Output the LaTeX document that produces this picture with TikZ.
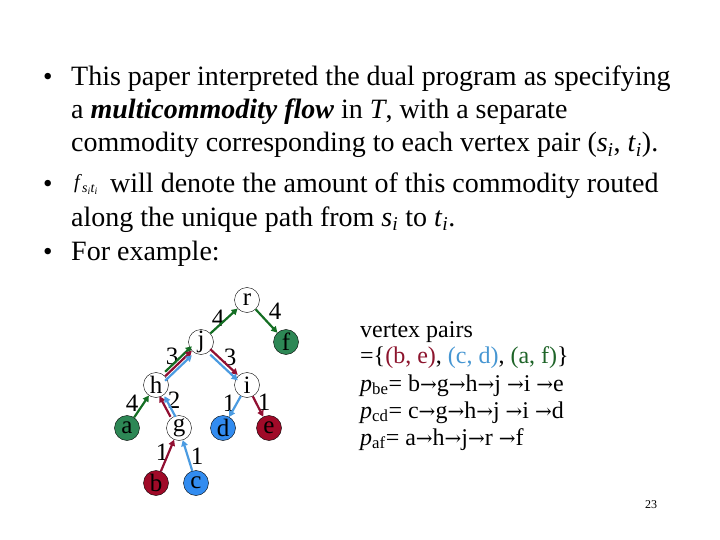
\documentclass[tikz,border=0pt]{standalone}
\usepackage{fontspec}
\setmainfont{Liberation Serif}
\newfontfamily\arrfont{DejaVu Serif}
\newcommand{\ra}{{\arrfont\fontsize{20}{20}\selectfont →}}
\usetikzlibrary{arrows.meta}
\definecolor{flowGreen}{RGB}{20,110,35}
\definecolor{flowRed}{RGB}{145,15,50}
\definecolor{flowBlue}{RGB}{75,155,225}
\definecolor{fillGreen}{RGB}{45,135,85}
\definecolor{fillRed}{RGB}{160,10,40}
\definecolor{fillBlue}{RGB}{50,140,240}
\definecolor{txtRed}{RGB}{140,20,45}
\definecolor{txtBlue}{RGB}{70,150,210}
\definecolor{txtGreen}{RGB}{30,100,40}

\begin{document}
\begin{tikzpicture}[x=1pt,y=-1pt,
  line/.style={anchor=base west,inner sep=0pt,font=\fontsize{28}{33}\selectfont},
  dot/.style={anchor=base west,inner sep=0pt,font=\fontsize{27}{27}\selectfont},
  pair/.style={anchor=base west,inner sep=0pt,font=\fontsize{24}{27}\selectfont},
  vtx/.style={circle,draw,thin,minimum size=25pt,inner sep=0pt,font=\fontsize{25}{25}\selectfont},
  grnv/.style={vtx,fill=fillGreen},
  redv/.style={vtx,fill=fillRed},
  bluv/.style={vtx,fill=fillBlue},
  wt/.style={inner sep=0pt,font=\fontsize{25}{25}\selectfont},
  flow/.style={line width=2.2pt,-{Triangle[length=6pt,width=6.5pt]}},
  grnflow/.style={flow,flowGreen},
  redflow/.style={flow,flowRed},
  bluflow/.style={flow,flowBlue}]
  \useasboundingbox (0,0) rectangle (720,540);
  % bullet text
  \node[dot]  (b1) at (43,86) {•};
  \node[line] (l1) at (71,86) {This paper interpreted the dual program as specifying};
  \node[line] (l2) at (71,119) {a \textbf{\textit{multicommodity flow}} in \textit{T}, with a separate};
  \node[line] (l3) at (71,152) {commodity corresponding to each vertex pair (\textit{s}\textsubscript{\textit{i}}, \textit{t}\textsubscript{\textit{i}}).};
  \node[dot]  (b2) at (43,193) {•};
  \node[anchor=base west,inner sep=0pt,font=\fontsize{20}{20}\selectfont] (fst) at (74,189)
    {\textit{f}\textsubscript{\textit{s\textsubscript{i}t\textsubscript{i}}}};
  \node[line] (l4) at (110,193) {will denote the amount of this commodity routed};
  \node[line] (l5) at (71,226) {along the unique path from \textit{s}\textsubscript{\textit{i}} to \textit{t}\textsubscript{\textit{i}}.};
  \node[dot]  (b3) at (43,260) {•};
  \node[line] (l6) at (71,260) {For example:};
  % tree
  \node[vtx]  (r) at (247,300) {r};
  \node[vtx]  (j) at (201,342) {j};
  \node[grnv] (f) at (286,342) {f};
  \node[vtx]  (h) at (156,385) {h};
  \node[vtx]  (i) at (247,385) {i};
  \node[grnv] (a) at (127,428) {a};
  \node[vtx]  (g) at (179,428) {g};
  \node[bluv] (d) at (223,428) {d};
  \node[redv] (e) at (269,428) {e};
  \node[redv] (b) at (156,483) {b};
  \node[bluv] (c) at (196,483) {c};
  % weights
  \foreach \n/\p/\t in {wjr/{218,318}/4, wrf/{275,311}/4, whj/{172,356}/3, wji/{230,357}/3,
      wah/{132,403}/4, wgh/{174,400}/2, wid/{229,403}/1, wie/{264,402}/1,
      wbg/{162,452}/1, wcg/{197,456}/1}
    \node[wt] (\n) at (\p) {\t};
  % (a,f)
  \draw[grnflow] (a) -- (h);
  \draw[grnflow,transform canvas={yshift=4.5pt}] (h) -- (j);
  \draw[grnflow] (j) -- (r);
  \draw[grnflow] (r) -- (f);
  % (b,e)
  \draw[redflow] (b) -- (g);
  \draw[redflow,transform canvas={xshift=-2.5pt}] (g) -- (h);
  \draw[redflow] (h) -- (j);
  \draw[redflow,transform canvas={yshift=1.5pt}] (j) -- (i);
  \draw[redflow] (i) -- (e);
  % (c,d)
  \draw[bluflow] (c) -- (g);
  \draw[bluflow,transform canvas={xshift=2.5pt}] (g) -- (h);
  \draw[bluflow,transform canvas={yshift=-4.5pt}] (h) -- (j);
  \draw[bluflow,transform canvas={yshift=-4pt}] (j) -- (i);
  \draw[bluflow] (i) -- (d);
  % pairs and paths
  \node[pair] (p0) at (360,337) {vertex pairs};
  \node[pair] (p1) at (360,363) {=\{\textcolor{txtRed}{(b, e)}, \textcolor{txtBlue}{(c, d)}, \textcolor{txtGreen}{(a, f)}\}};
  \node[pair] (p2) at (360,391) {\textit{p}\textsubscript{be}= b\ra g\ra h\ra j \ra i \ra e};
  \node[pair] (p3) at (360,418) {\textit{p}\textsubscript{cd}= c\ra g\ra h\ra j \ra i \ra d};
  \node[pair] (p4) at (360,445) {\textit{p}\textsubscript{af}= a\ra h\ra j\ra r \ra f};
  \node[font=\fontsize{12}{12}\selectfont] (pg) at (651,505) {23};
\end{tikzpicture}
\end{document}
